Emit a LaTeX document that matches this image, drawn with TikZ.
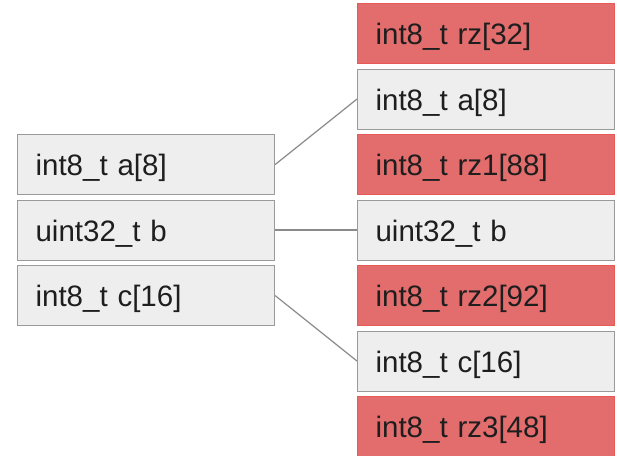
\documentclass[tikz,border=0pt]{standalone}
\usepackage{fontspec}
\setmainfont{Liberation Sans}
\definecolor{cellfill}{HTML}{EEEEEE}
\definecolor{celledge}{HTML}{9A9A9A}
\definecolor{padfill}{HTML}{E36C6C}
\definecolor{padedge}{HTML}{E85A55}
\definecolor{linkgray}{HTML}{8A8A8A}
\definecolor{ink}{HTML}{1E1E1E}
\tikzset{
  cell/.style={draw=celledge, fill=cellfill, line width=1.1pt,
    anchor=north west, minimum width=257pt, minimum height=60pt,
    inner xsep=18pt, inner ysep=0pt, text width=221pt, align=left,
    text height=22pt, text depth=0pt, text=ink,
    font=\fontsize{29.5pt}{30pt}\selectfont},
  pad/.style={cell, draw=padedge, fill=padfill},
  link/.style={draw=linkgray, line width=1.2pt}
}
\begin{document}
\begin{tikzpicture}[x=1pt, y=-1pt]
  \useasboundingbox (0,0) rectangle (617,455);
  % original struct layout
  \node[cell] (la) at (17,134) {int8\_t a[8]};
  \node[cell] (lb) at (17,199.5) {uint32\_t b};
  \node[cell] (lc) at (17,265) {int8\_t c[16]};
  % layout with red zones between fields
  \node[pad]  (r0) at (357,3)     {int8\_t rz[32]};
  \node[cell] (ra) at (357,68.5)  {int8\_t a[8]};
  \node[pad]  (r1) at (357,134)   {int8\_t rz1[88]};
  \node[cell] (rb) at (357,199.5) {uint32\_t b};
  \node[pad]  (r2) at (357,265)   {int8\_t rz2[92]};
  \node[cell] (rc) at (357,330.5) {int8\_t c[16]};
  \node[pad]  (r3) at (357,396)   {int8\_t rz3[48]};
  % field correspondences
  \draw[link] (la.east) -- (ra.west);
  \draw[link] (lb.east) -- (rb.west);
  \draw[link] (lc.east) -- (rc.west);
\end{tikzpicture}
\end{document}
